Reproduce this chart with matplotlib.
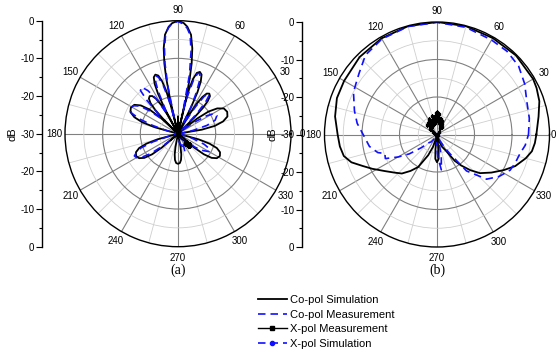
import numpy as np
import matplotlib.pyplot as plt

plt.rcParams['font.family'] = ['Liberation Sans', 'DejaVu Sans']

# ---- panel (a) ----
a_co_sim_deg = [0, 8, 9.6, 12, 15.2, 19.2, 24, 28.8, 32.8, 36, 38.4, 40,
                44, 44.8, 46, 47.6, 49.6, 52, 54.4, 56.4, 58, 59.2, 60,
                63, 63.75, 64.9, 66.4, 68.25, 70.5, 72.75, 74.6, 76.1, 77.25, 78,
                76, 77, 78, 79, 80.5, 82.5, 85, 87, 90, 93, 95, 97.5, 99.5, 101, 102, 103, 104,
                103.5, 104.25, 105.4, 106.9, 108.75, 111, 113.25, 115.1, 116.6, 117.75, 118.5,
                118, 118.9, 120.25, 122.05, 124.3, 127, 129.7, 131.95, 133.75, 135.1, 136,
                136, 137.5, 139.75, 142.75, 146.5, 151, 155.5, 159.25, 162.25, 164.5, 166,
                194, 195.4, 197.5, 200.3, 203.8, 208, 212.2, 215.7, 218.5, 220.6, 222,
                258, 259.2, 261, 263.4, 266.4, 270, 273.6, 276.6, 279, 280.8, 282,
                318, 319.4, 321.5, 324.3, 327.8, 332, 336.2, 339.7, 342.5, 344.6, 346, 360]
a_co_sim_db = [-30, -30, -23.6, -20, -17.6, -16.1, -15.7, -16.1, -17.6, -20, -23.6, -30,
               -30, -23.9, -20.55, -18.3, -16.9, -16.5, -16.9, -18.3, -20.55, -23.9, -30,
               -30, -22.2, -17.8, -14.9, -13.1, -12.6, -13.1, -14.9, -17.8, -22.2, -30,
               -30, -21, -15, -11, -7, -3.5, -1.5, -0.6, 0, -0.6, -1.5, -3.5, -7, -11, -15, -21, -30,
               -30, -22.4, -18.2, -15.4, -13.7, -13.2, -13.7, -15.4, -18.2, -22.4, -30,
               -30, -24.4, -21.25, -19.1, -17.9, -17.5, -17.9, -19.1, -21.25, -24.4, -30,
               -30, -23.6, -20, -17.6, -16.1, -15.7, -16.1, -17.6, -20, -23.6, -30,
               -30, -24.3, -21.2, -19, -17.8, -17.4, -17.8, -19, -21.2, -24.3, -30,
               -30, -26.4, -24.4, -23, -22.2, -22, -22.2, -23, -24.4, -26.4, -30,
               -30, -24.3, -21.2, -19, -17.8, -17.4, -17.8, -19, -21.2, -24.3, -30, -30]

a_co_meas_deg = [0, 8, 12, 16, 20, 25, 29, 32, 35, 38, 42, 45, 47, 49, 51, 53, 55, 57, 59, 62,
                 64, 66, 68, 70, 72, 74, 76, 77.5, 79, 81, 83, 85, 87, 90, 93, 95, 97, 99, 100.5, 102,
                 103.5, 105, 107, 109, 111, 113, 115, 117, 119, 122, 125, 128, 131, 133, 135, 138,
                 141, 144, 148, 152, 156, 159, 162, 165, 170, 185, 195, 198, 201, 204, 207, 210,
                 213, 216, 219, 222, 235, 250, 265, 275, 285, 291, 295, 300, 315, 322, 326, 330,
                 334, 338, 342, 346, 360]
a_co_meas_db = [-30, -29, -26, -22, -19.5, -18.6, -18.9, -21, -24.5, -28.5, -29, -27, -22.5, -18.8,
                -16.8, -16.6, -18, -21.5, -26, -27, -22, -18, -14.5, -13, -13.2, -15.5, -20, -24,
                -14, -7.8, -3.6, -1.9, -0.9, -0.2, -0.7, -1.7, -3.2, -7, -11, -17, -26, -21, -16.5,
                -14.2, -13.5, -14.5, -17.5, -22, -24, -19, -16, -14.3, -14.8, -18, -23, -24, -20.5,
                -17.5, -16, -15.5, -16.5, -19, -23, -27, -29.5, -30, -28, -23, -19.5, -18, -17,
                -17.3, -18.5, -21, -25, -28, -29, -30, -29, -28, -27, -25, -26.5, -28.5, -27, -24,
                -22, -20.5, -20.5, -22.5, -26, -29, -30]

a_x_meas_deg = [0, 60, 84, 88, 90, 90, 91, 93, 96, 120, 180, 215, 220, 222, 225, 240, 290,
                305, 312, 316, 320, 325, 335, 360]
a_x_meas_db = [-30, -30, -29.5, -28.5, -27.7, -25.3, -27.5, -29, -30, -30, -30, -30, -28, -27.2,
               -28.5, -30, -30, -28.5, -26.8, -25.8, -26.5, -28, -30, -30]

a_x_sim_deg = [0, 90, 180, 270, 360]
a_x_sim_db = [-30, -30, -30, -30, -30]

# ---- panel (b) ----
b_co_sim_deg = [0, 10, 18, 25, 30, 45, 60, 75, 90, 105, 120, 135, 150, 160, 170, 180, 187, 193,
                198, 203, 208, 215, 222, 228, 234, 240, 247, 252, 256, 259, 262, 264, 266, 270,
                274, 276, 278, 282, 286, 292, 299, 304, 308, 313, 318, 325, 332, 338, 345, 350,
                355, 360]
b_co_sim_db = [-3.5, -2.5, -1.3, -0.7, -0.4, -0.2, -0.3, -0.1, 0, -0.1, -0.4, -0.8, -1.4, -1.6,
               -2.4, -3.5, -3.9, -4.5, -6, -8.5, -10.5, -13, -14.8, -16, -18, -20, -24, -26.5,
               -29, -30, -30, -26, -23.5, -22.6, -23.5, -26, -30, -30, -28.5, -26.5, -25, -21.5,
               -19.5, -17, -14.6, -12.3, -9.8, -7.5, -5.5, -4.3, -3.8, -3.5]

b_co_meas_deg = [0, 10, 20, 30, 40, 50, 60, 75, 90, 105, 120, 132, 142, 153, 164, 172, 180, 190,
                 197, 200, 205, 210, 215, 220, 226, 232, 240, 250, 262, 268, 272, 277, 281, 285,
                 292, 300, 304, 309, 318, 326, 334, 340, 347, 353, 360]
b_co_meas_db = [-5.6, -5.0, -4.5, -3.0, -1.6, -1.0, -0.9, -0.4, -0.1, -0.2, -0.6, -1.5, -3.6,
                -5.0, -7.1, -8.5, -10.3, -11.7, -13.5, -15.2, -14.8, -18.0, -21.0, -24.5, -27,
                -27.5, -29, -29.5, -29, -27, -24, -20.5, -24, -28, -28.5, -26, -23.8, -17.5,
                -12.2, -10, -8.3, -7.8, -7.3, -6.3, -5.6]

b_x_meas_deg = [0, 30, 50, 58, 63, 67, 70, 73, 76, 79, 82, 85, 87, 89, 91, 93, 95, 98, 101, 104,
                107, 110, 113, 116, 119, 122, 125, 128, 131, 134, 138, 142, 148, 155, 165, 180,
                220, 260, 268, 272, 280, 300, 330, 360]
b_x_meas_db = [-30, -30, -29, -27.5, -26.8, -28, -26.2, -27.3, -25.8, -27, -25.5, -24.6, -26.5,
               -24, -25, -24.3, -26, -25.2, -26.8, -25, -26.3, -25.8, -27.2, -25.4, -26.6, -25.9,
               -27.5, -26, -27, -26.3, -28, -27.5, -28.8, -29.5, -30, -30, -30, -30, -28.6,
               -28.8, -30, -30, -30, -30]

b_x_sim_deg = [0, 90, 180, 270, 360]
b_x_sim_db = [-30, -30, -30, -30, -30]

angle_labels = ['0', '30', '60', '90', '120', '150', '180', '210', '240', '270', '300', '330']
db_tick_labels = ['0', '-10', '-20', '-30', '-20', '-10', '0']
legend_labels = ['Co-pol Simulation', 'Co-pol Measurement', 'X-pol Measurement', 'X-pol Simulation']

W, H = 557, 350
fig = plt.figure(figsize=(W / 100, H / 100), dpi=100)


def polar_panel(cx, cy, r, labels):
    ax = fig.add_axes([(cx - r) / W, 1 - (cy + r) / H, 2 * r / W, 2 * r / H], projection='polar')
    ax.set_rlim(-30, 0)
    ax.set_thetagrids(np.arange(0, 360, 30), labels, fontsize=7)
    ax.set_xticks(np.radians(np.arange(15, 360, 30)), minor=True)
    ax.set_yticks([-20, -10])
    ax.set_yticks([-25, -15, -5], minor=True)
    ax.set_yticklabels([])
    ax.grid(which='major', color='#808080', lw=0.8)
    ax.grid(which='minor', color='#cfcfcf', lw=0.6)
    ax.tick_params(which='both', length=0)
    ax.tick_params(axis='x', pad=1)
    ax.spines['polar'].set_linewidth(1.0)
    return ax


def db_axis(x, top, bottom):
    ax = fig.add_axes([x / W, 1 - bottom / H, 0.0005, (bottom - top) / H])
    ax.patch.set_visible(False)
    for s in ['top', 'right', 'bottom']:
        ax.spines[s].set_visible(False)
    ax.spines['left'].set_linewidth(1.0)
    ax.set_xticks([])
    ax.set_ylim(-30, 30)
    ax.set_yticks([30, 20, 10, 0, -10, -20, -30])
    ax.set_yticklabels(db_tick_labels, fontsize=7)
    ax.set_yticks([25, 15, 5, -5, -15, -25], minor=True)
    ax.tick_params(which='major', length=4, width=0.8, pad=1.5)
    ax.tick_params(which='minor', length=2.5, width=0.8)
    ax.set_ylabel('dB', fontsize=8, labelpad=2)
    return ax


def draw(ax, co_sim, co_meas, x_meas, x_sim, marks, ms):
    l1, = ax.plot(np.radians(co_sim[0]), co_sim[1], color='black', lw=1.3)
    l2, = ax.plot(np.radians(co_meas[0]), co_meas[1], color='#1010ff', lw=1.2,
                  dashes=(4.5, 3))
    l4, = ax.plot(np.radians(x_sim[0]), x_sim[1], color='#1010ff', lw=1.2, dashes=(4.5, 3),
                  marker='o', ms=3, markevery=[0])
    l3, = ax.plot(np.radians(x_meas[0]), x_meas[1], color='black', lw=1.0,
                  marker='s', ms=ms, markevery=marks)
    return [l1, l2, l3, l4]


ax_a = polar_panel(178, 133.7, 113, angle_labels)
h = draw(ax_a, (a_co_sim_deg, a_co_sim_db), (a_co_meas_deg, a_co_meas_db),
         (a_x_meas_deg, a_x_meas_db), (a_x_sim_deg, a_x_sim_db), [0, 4, 18, 19], 3)
db_axis(42, 20.7, 246.7)

# the 0 label of panel (b) sits at the figure edge, placed by hand so it stays visible
ax_b = polar_panel(437, 134.5, 112.5, [''] + angle_labels[1:])
draw(ax_b, (b_co_sim_deg, b_co_sim_db), (b_co_meas_deg, b_co_meas_db),
     (b_x_meas_deg, b_x_meas_db), (b_x_sim_deg, b_x_sim_db), None, 2)
fig.text(556 / W, 1 - 134.5 / H, angle_labels[0], fontsize=7, ha='right', va='center')
db_axis(302, 22, 247)

fig.text(178 / W, 1 - 270 / H, '(a)', family='Liberation Serif', fontsize=10, ha='center', va='center')
fig.text(437 / W, 1 - 270 / H, '(b)', family='Liberation Serif', fontsize=10, ha='center', va='center')

fig.legend(h, legend_labels, loc='upper left', bbox_to_anchor=(258 / W, 1 - 295 / H),
           frameon=False, fontsize=8, handlelength=2.6, handletextpad=0.3,
           labelspacing=0.42, borderpad=0, borderaxespad=0, numpoints=1)

fig.savefig('out.png', dpi=100)
